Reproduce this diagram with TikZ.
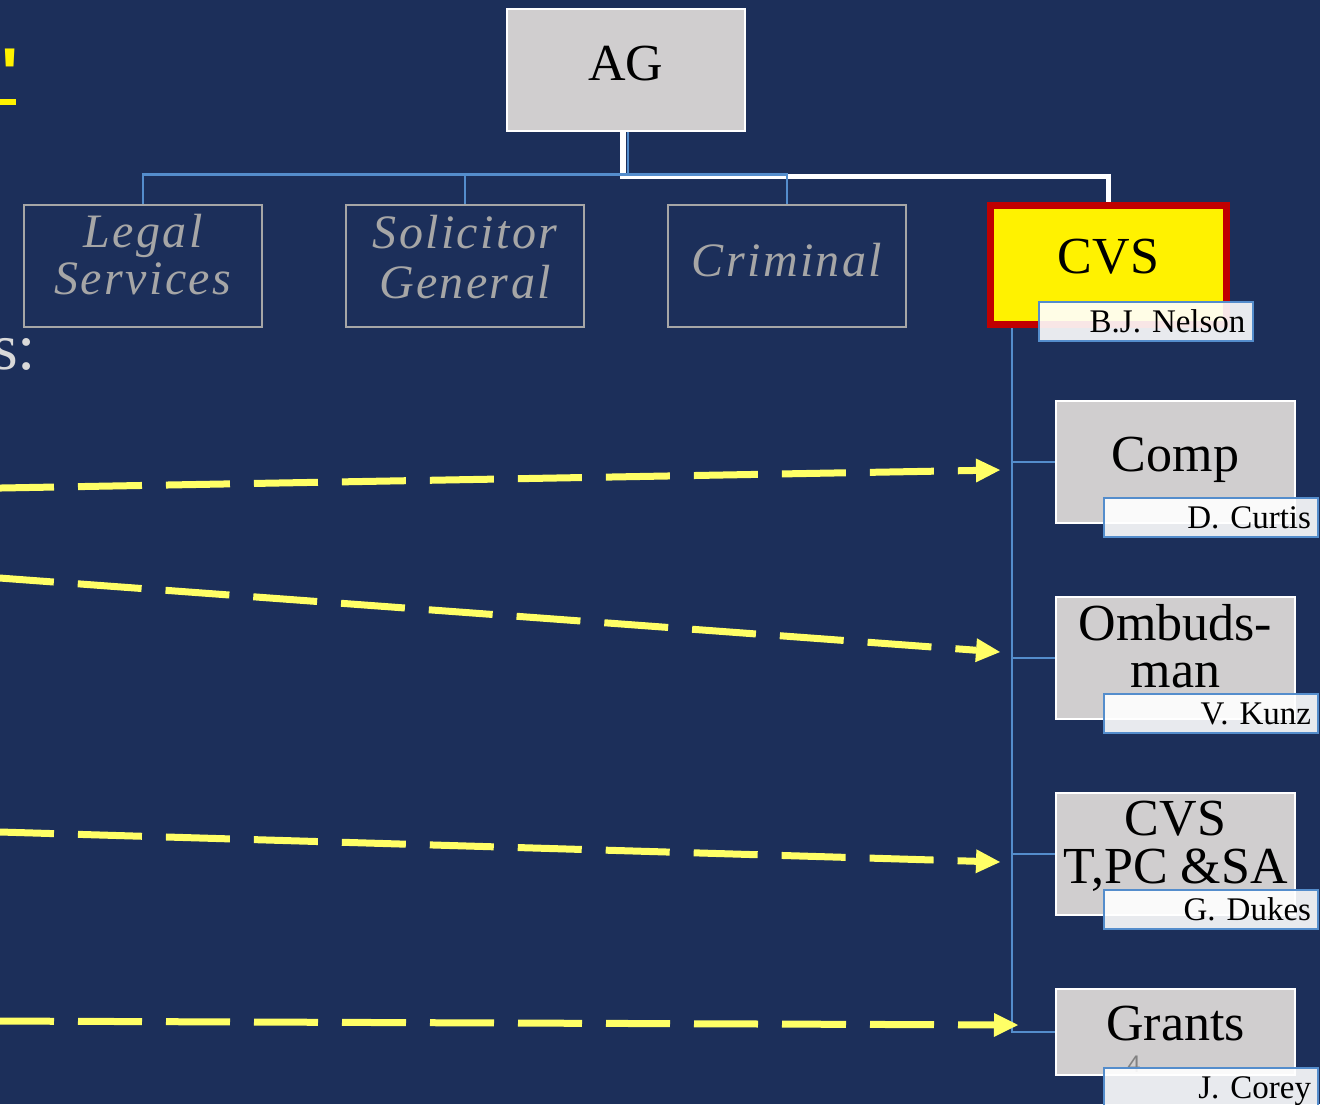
\documentclass[tikz,border=0pt]{standalone}
\usepackage{fontspec}
\setmainfont{Liberation Serif}
\newfontfamily\spacedit{Liberation Serif}[LetterSpace=5]
\newfontfamily\sansfam{Liberation Sans}
\usetikzlibrary{arrows.meta,backgrounds}
\definecolor{navy}{RGB}{28,47,90}
\definecolor{boxgray}{RGB}{208,206,207}
\definecolor{lineblue}{RGB}{84,141,204}
\definecolor{outlinegray}{RGB}{166,166,166}
\definecolor{dashyellow}{RGB}{255,255,102}
\definecolor{cvsred}{RGB}{192,0,0}
\definecolor{slidegray}{RGB}{217,217,217}
\definecolor{pagenum}{RGB}{130,130,130}
\newcommand\twoline[3]{\vtop{\baselineskip=#1\lineskiplimit=-1000pt\lineskip=0pt\halign{\hfil##\hfil\cr#2\cr#3\cr}}}
\begin{document}
\begin{tikzpicture}[x=1pt,y=-1pt,
  graybox/.style={rectangle, draw=white, line width=2pt, fill=boxgray, minimum width=239pt, minimum height=122pt, inner sep=0pt, text=black, font=\fontsize{52}{52}\selectfont},
  outlinebox/.style={rectangle, draw=outlinegray, line width=2.5pt, minimum width=238pt, minimum height=122pt, inner sep=0pt, text=outlinegray, font=\spacedit\itshape\fontsize{48}{48}\selectfont},
  cvsbox/.style={rectangle, draw=cvsred, line width=7pt, fill=yellow, minimum width=236pt, minimum height=119pt, inner sep=0pt, text=black, font=\fontsize{52}{52}\selectfont},
  namelab/.style={rectangle, draw=lineblue, line width=2pt, fill=white, fill opacity=0.9, text opacity=1, text=black, minimum width=214pt, minimum height=39pt, inner xsep=7pt, inner ysep=0pt, text width=200pt, align=right, text height=21pt, text depth=0pt, font=\fontsize{33}{33}\selectfont},
  orgline/.style={draw=lineblue, line width=2.2pt},
  whiteline/.style={draw=white, line width=5.5pt},
  dasharrow/.style={draw=dashyellow, line width=7pt, dash pattern=on 64pt off 24pt, -{Triangle[length=24pt,width=24pt,line width=0pt]}}
]
\useasboundingbox (0,0) rectangle (1320,1104);

% slide remnants
\node[font=\fontsize{66}{66}\selectfont, text=slidegray, anchor=base west, inner sep=0pt] (stext) at (-8,369) {s:};
\node[font=\sansfam\bfseries\fontsize{72}{72}\selectfont, text=yellow, anchor=north west, inner sep=0pt] (apos) at (1,49) {'};
\fill[yellow] (0,99) rectangle (16,105);

% top row
\node[graybox, minimum width=238pt, text height=20pt, text depth=0pt] (ag) at (626,70) {AG};
\node[outlinebox, text height=0pt, text depth=38pt] (legal) at (143,266) {\twoline{47pt}{Legal}{Services}};
\node[outlinebox, text height=0pt, text depth=36pt] (sg) at (465,266) {\twoline{50pt}{Solicitor}{General}};
\node[outlinebox, text height=20pt, text depth=0pt] (crim) at (787,266) {Criminal};
\node[cvsbox, text height=16pt, text depth=0pt] (cvs) at (1108.5,265) {CVS};
\node[namelab] (nelson) at (1145.5,321.5) {B.J. Nelson};

% units
\node[graybox, text height=18pt, text depth=0pt] (comp) at (1175.5,462) {Comp};
\node[graybox, text height=0pt, text depth=36pt] (omb) at (1175.5,658) {\twoline{47pt}{Ombuds-}{man}};
\node[graybox, text height=0pt, text depth=38pt] (tpc) at (1175.5,854) {\twoline{48pt}{CVS}{T,PC \&SA}};
\node[graybox, minimum height=86pt, text height=16pt, text depth=0pt] (grants) at (1175.5,1032) {Grants};
\node[font=\sansfam\fontsize{24}{24}\selectfont, text=pagenum, inner sep=0pt] (pnum) at (1134,1064) {4};

\node[namelab] (curtis) at (1211,517.5) {D. Curtis};
\node[namelab] (kunz) at (1211,713.5) {V. Kunz};
\node[namelab] (dukes) at (1211,909.5) {G. Dukes};
\node[namelab] (corey) at (1211,1087.5) {J. Corey};

% connectors
\begin{scope}[on background layer]
  \fill[navy] (0,0) rectangle (1320,1104);
  \coordinate (wbus) at (900,176.5);
  \coordinate (bbus) at (628,174.5);
  \coordinate (trunk) at ([xshift=25pt]cvs.south west);
  \draw[whiteline] ([xshift=-3pt]ag.south) |- (wbus) -| (cvs.north);
  \draw[orgline] ([xshift=2pt]ag.south) -- (bbus);
  \draw[orgline] (bbus) -| (legal.north);
  \draw[orgline] (bbus) -| (sg.north);
  \draw[orgline] (bbus) -| (crim.north);
  \draw[orgline] (trunk) |- (comp.west);
  \draw[orgline] (trunk) |- (omb.west);
  \draw[orgline] (trunk) |- (tpc.west);
  \draw[orgline] (trunk) |- (grants.west);
\end{scope}

% dashed arrows
\coordinate (d1s) at (-10,488.2);
\coordinate (d1e) at (1000,470);
\coordinate (d2s) at (-10,577.3);
\coordinate (d2e) at (1000,652);
\coordinate (d3s) at (-10,831.7);
\coordinate (d3e) at (1000,862);
\coordinate (d4s) at (-10,1021);
\coordinate (d4e) at (1018,1025);
\draw[dasharrow] (d1s) -- (d1e);
\draw[dasharrow] (d2s) -- (d2e);
\draw[dasharrow] (d3s) -- (d3e);
\draw[dasharrow] (d4s) -- (d4e);
\end{tikzpicture}
\end{document}
